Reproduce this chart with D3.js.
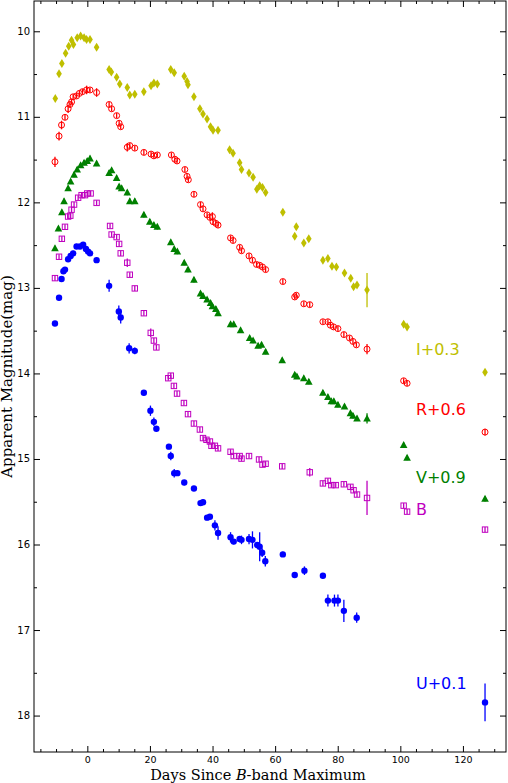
<!DOCTYPE html>
<html><head><meta charset="utf-8">
<script src="https://d3js.org/d3.v7.min.js"></script>
<style>body{margin:0;background:#fff}</style></head>
<body><svg id="c" width="508" height="783"></svg>
<script>
// [day, mag, err]
const bandI = [[-10.4,10.78],[-9.2,10.49],[-8.3,10.37],[-7.1,10.25],[-6.1,10.17],[-5.2,10.10],[-4.6,10.15],[-3.4,10.07],[-2.3,10.05],[-1.2,10.07],[-0.4,10.09],[0.7,10.09],[2.8,10.18],[6.8,10.44],[7.5,10.47],[9.2,10.53],[10.2,10.61],[12.6,10.65],[13.4,10.74],[15.0,10.73],[17.9,10.70],[20.2,10.63],[21.1,10.60],[22.2,10.61],[26.5,10.44],[27.6,10.48],[30.8,10.52],[31.7,10.58],[32.0,10.62],[33.9,10.76],[35.8,10.90],[36.8,10.96],[38.1,11.02],[39.2,11.11],[40.0,11.15],[41.6,11.15],[45.3,11.38],[46.4,11.42],[48.5,11.53],[49.1,11.61],[51.5,11.65],[52.8,11.70],[54.0,11.84],[54.9,11.80],[55.8,11.82],[56.8,11.88],[62.3,12.11],[66.1,12.39],[66.6,12.28],[69.0,12.47],[70.6,12.42],[75.1,12.67],[76.7,12.65],[78.0,12.74],[79.4,12.75],[82.0,12.82],[84.0,12.88],[84.9,12.98],[86.0,12.96],[89.2,13.02,0.2],[100.9,13.42],[102.0,13.45],[126.9,13.98]];
const bandR = [[-10.5,11.52,0.06],[-9.2,11.22,0.05],[-8.4,11.09,0.05],[-7.3,11.00],[-6.3,10.90,0.05],[-5.7,10.85],[-5.2,10.82],[-4.7,10.76],[-3.6,10.75],[-2.7,10.72],[-1.7,10.70],[-0.4,10.68,0.05],[0.7,10.68],[2.8,10.71,0.05],[6.8,10.85],[7.6,10.90],[9.2,10.98],[10.0,11.07],[10.5,11.11],[12.6,11.35,0.05],[13.4,11.33],[15.0,11.36],[17.9,11.41],[20.2,11.43],[21.1,11.45],[22.2,11.44],[26.7,11.44],[27.8,11.49],[28.5,11.51],[31.0,11.61],[31.7,11.69],[32.1,11.73],[33.9,11.90],[36.0,12.02],[36.8,12.07],[38.1,12.14],[39.0,12.17],[39.8,12.16,0.05],[40.0,12.22],[40.9,12.24],[41.6,12.26],[45.6,12.41],[46.4,12.44],[48.5,12.52],[49.1,12.56],[51.5,12.62],[52.6,12.67],[53.9,12.72],[54.9,12.73],[55.8,12.75],[56.8,12.78],[62.3,12.92],[66.1,13.10],[66.6,13.08],[69.0,13.18],[70.9,13.19],[75.1,13.39],[76.7,13.39],[77.5,13.43],[78.5,13.45],[79.9,13.47],[81.8,13.54],[83.6,13.58],[84.7,13.62],[85.8,13.66],[89.2,13.71,0.06],[100.9,14.08],[102.0,14.11],[126.9,14.68,0.04]];
const bandV = [[-10.5,12.53],[-9.4,12.30],[-8.3,12.11],[-7.6,11.98],[-6.3,11.83],[-5.5,11.75],[-4.4,11.67],[-3.4,11.61],[-2.3,11.56],[-1.2,11.53],[-0.2,11.51],[0.7,11.48],[2.8,11.54],[6.8,11.65],[7.6,11.62],[9.2,11.71],[10.0,11.81],[10.8,11.83],[12.6,11.88],[13.4,11.98],[15.0,11.98],[17.9,12.14],[19.8,12.22],[21.1,12.26],[22.2,12.28],[26.5,12.46],[27.6,12.54],[28.6,12.57],[30.8,12.70],[32.0,12.78],[33.9,12.90],[36.0,13.06],[36.8,13.09],[38.1,13.13],[39.2,13.17],[39.8,13.21],[40.9,13.24],[41.6,13.29],[45.6,13.42],[46.6,13.42],[48.8,13.49],[51.7,13.58],[52.8,13.61],[54.4,13.67],[55.5,13.66],[56.8,13.74],[62.1,13.84],[66.1,14.01],[66.8,14.03],[69.0,14.05],[70.6,14.09],[75.1,14.22],[76.7,14.27],[77.8,14.32],[78.6,14.32],[79.9,14.36],[82.0,14.38],[83.9,14.46],[84.7,14.49],[86.0,14.52],[89.2,14.52,0.06],[100.9,14.83],[102.0,14.98],[126.9,15.46]];
const bandB = [[-10.5,12.88],[-9.2,12.63],[-8.3,12.42],[-7.3,12.28],[-6.3,12.16],[-5.6,12.15],[-5.2,12.08],[-4.4,12.02],[-3.1,11.94],[-2.0,11.91],[-0.9,11.91],[-0.2,11.89],[0.9,11.89],[2.8,12.00],[7.1,12.27],[7.6,12.37],[9.2,12.40],[10.0,12.48],[10.5,12.59],[12.6,12.70,0.05],[13.4,12.84],[15.0,13.00],[17.9,13.29],[20.1,13.52,0.05],[21.1,13.61],[21.9,13.69],[25.7,14.05],[26.5,14.02],[27.5,14.14],[28.5,14.23],[30.7,14.34],[32.0,14.47],[33.9,14.58],[35.8,14.65],[36.8,14.75],[37.9,14.77],[39.0,14.79],[39.5,14.84],[40.6,14.84],[41.6,14.87],[45.6,14.91],[46.6,14.96],[48.5,14.96],[49.1,14.99],[51.5,14.96],[54.7,15.00],[55.8,15.06],[56.8,15.05],[62.1,15.08],[70.9,15.15,0.05],[75.1,15.28],[76.7,15.25],[77.8,15.30],[79.2,15.30],[81.8,15.29],[83.9,15.32],[84.9,15.36],[86.0,15.41],[89.2,15.45,0.2],[100.9,15.54],[102.0,15.61],[126.9,15.82]];
const bandU = [[-10.5,13.41],[-9.2,13.11],[-8.4,12.89],[-7.8,12.80],[-7.3,12.78],[-6.3,12.66],[-5.5,12.62],[-4.7,12.59],[-3.6,12.51],[-2.5,12.51],[-1.5,12.49],[-0.6,12.54],[0.1,12.57],[0.7,12.59],[2.8,12.67],[6.8,12.97,0.07],[9.9,13.27,0.07],[10.5,13.34,0.07],[13.2,13.70,0.06],[15.0,13.73,0.04],[17.9,14.22],[20.0,14.43,0.06],[21.1,14.56,0.05],[21.9,14.64],[25.9,14.85],[26.5,14.96,0.05],[27.6,15.16,0.05],[28.6,15.16],[30.8,15.27],[33.9,15.34],[36.0,15.51],[36.8,15.50],[38.1,15.68],[39.0,15.67],[40.6,15.77,0.06],[41.6,15.86,0.08],[45.6,15.91,0.06],[46.6,15.96],[48.5,15.93],[49.1,15.94,0.05],[51.5,15.93,0.06],[52.6,15.94,0.1],[54.1,16.00],[54.9,16.02,0.17],[55.7,16.09,0.05],[56.7,16.19,0.06],[62.3,16.11],[66.1,16.35],[69.2,16.30,0.05],[75.1,16.36],[76.7,16.65,0.07],[78.8,16.65,0.07],[79.9,16.65,0.07],[81.8,16.77,0.13],[85.9,16.85,0.06],[126.9,17.84,0.22]];
const xTicks = [0,20,40,60,80,100,120];
const yTicks = [10,11,12,13,14,15,16,17,18];
const bandLabels = ["I+0.3","R+0.6","V+0.9","B","U+0.1"];
const labelMags = [13.73,14.43,15.22,15.60,17.63];

const svg = d3.select("#c");
const L=34, R=506, T=1, B=752;
const x = d3.scaleLinear().domain([-17.2,133.6]).range([L,R]);
const y = d3.scaleLinear().domain([9.64,18.42]).range([T,B]);
const g = svg.append("g");

const bands = [
 {d:bandI,c:"#bfbf00",m:"dia"},
 {d:bandR,c:"#ff0000",m:"ocirc"},
 {d:bandV,c:"#008000",m:"tri"},
 {d:bandB,c:"#bf00bf",m:"osq"},
 {d:bandU,c:"#0000ff",m:"circ"}];

bands.forEach((b,i)=>{
  const s = g.append("g");
  b.d.forEach(p=>{
    const cx=x(p[0]), cy=y(p[1]), e=p[2]||0.03;
    s.append("line").attr("x1",cx).attr("x2",cx).attr("y1",y(p[1]-e)).attr("y2",y(p[1]+e)).attr("stroke",b.c).attr("stroke-width",1.3);
    if(b.m==="dia") s.append("path").attr("d",`M${cx},${cy-4.5}L${cx+2.8},${cy}L${cx},${cy+4.5}L${cx-2.8},${cy}Z`).attr("fill",b.c);
    else if(b.m==="ocirc") s.append("circle").attr("cx",cx).attr("cy",cy).attr("r",3).attr("fill","none").attr("stroke",b.c).attr("stroke-width",1);
    else if(b.m==="tri") s.append("path").attr("d",`M${cx},${cy-4}L${cx+3.8},${cy+3}L${cx-3.8},${cy+3}Z`).attr("fill",b.c);
    else if(b.m==="osq") s.append("rect").attr("x",cx-2.7).attr("y",cy-2.7).attr("width",5.4).attr("height",5.4).attr("fill","none").attr("stroke",b.c).attr("stroke-width",1);
    else s.append("circle").attr("cx",cx).attr("cy",cy).attr("r",3.2).attr("fill",b.c);
  });
  g.append("text").attr("x",416).attr("y",y(labelMags[i])).attr("fill",b.c)
   .attr("font-family","DejaVu Sans").attr("font-size",16).attr("dominant-baseline","middle").text(bandLabels[i]);
});

svg.append("rect").attr("x",L).attr("y",T).attr("width",R-L).attr("height",B-T).attr("fill","none").attr("stroke","#000").attr("stroke-width",1);
const ax = svg.append("g").attr("stroke","#000");
d3.range(-15,134,5).forEach(v=>{
  const len = v%20===0?6:3;
  ax.append("line").attr("x1",x(v)).attr("x2",x(v)).attr("y1",B).attr("y2",B-len);
  ax.append("line").attr("x1",x(v)).attr("x2",x(v)).attr("y1",T).attr("y2",T+len);
});
d3.range(10,18.45,0.5).forEach(v=>{
  const len = Number.isInteger(v)?6:3;
  ax.append("line").attr("x1",L).attr("x2",L+len).attr("y1",y(v)).attr("y2",y(v));
  ax.append("line").attr("x1",R).attr("x2",R-len).attr("y1",y(v)).attr("y2",y(v));
});
xTicks.forEach(v=>svg.append("text").attr("x",x(v)).attr("y",B+11).attr("text-anchor","middle")
  .attr("font-family","DejaVu Sans").attr("font-size",9.5).text(v));
yTicks.forEach(v=>svg.append("text").attr("x",L-4).attr("y",y(v)).attr("text-anchor","end").attr("dominant-baseline","middle")
  .attr("font-family","DejaVu Sans").attr("font-size",10).text(v));
const xl = svg.append("text").attr("x",(L+R)/2-12).attr("y",780).attr("text-anchor","middle")
  .attr("font-family","DejaVu Serif").attr("font-size",14.5);
xl.append("tspan").text("Days Since ");
xl.append("tspan").attr("font-style","italic").text("B");
xl.append("tspan").text("-band Maximum");
svg.append("text").attr("transform",`translate(12,${(T+B)/2}) rotate(-90)`).attr("text-anchor","middle")
  .attr("font-family","DejaVu Serif").attr("font-size",15).text("Apparent Magnitude(mag)");
</script></body></html>
